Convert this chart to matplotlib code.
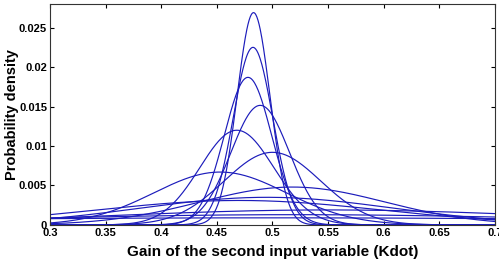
import numpy as np
import matplotlib
matplotlib.use("Agg")
import matplotlib.pyplot as plt

# ~~~~~~~~~~~~~ Paramètres (un pic par courbe) ~~~~~~~~~~~~~ #
centres = [0.483, 0.4825, 0.478, 0.489, 0.468, 0.500, 0.453, 0.518, 0.495, 0.470, 0.550, 0.500, 0.520]
hauteurs = [0.0269, 0.0225, 0.0187, 0.01515, 0.0120, 0.0092, 0.0067, 0.0048, 0.0035, 0.0031, 0.0019, 0.0009, 0.0013]
largeurs = [0.0148, 0.0177, 0.0213, 0.0263, 0.0332, 0.0433, 0.0596, 0.083, 0.114, 0.129, 0.20, 0.40, 0.25]

x_ticks = [0.3, 0.35, 0.4, 0.45, 0.5, 0.55, 0.6, 0.65, 0.7]
y_ticks = [0, 0.005, 0.01, 0.015, 0.02, 0.025]

plt.rcParams['font.family'] = ['Liberation Sans', 'DejaVu Sans']

fig = plt.figure(figsize=(4.99, 2.64), dpi=100)
ax = fig.add_axes([0.1, 0.148, 0.892, 0.837])

x = np.linspace(0.3, 0.7, 801)
for mu, h, s in zip(centres, hauteurs, largeurs):
    ax.plot(x, h * np.exp(-0.5 * ((x - mu) / s) ** 2), color='#1c1cbb', lw=0.85)

ax.set_xlim(0.3, 0.7)
ax.set_ylim(0, 0.028)
ax.set_xticks(x_ticks)
ax.set_xticklabels([f"{t:g}" for t in x_ticks], fontweight='bold', fontsize=8)
ax.set_yticks(y_ticks)
ax.set_yticklabels([f"{t:g}" for t in y_ticks], fontweight='bold', fontsize=8)
ax.tick_params(direction='in', top=True, right=True, length=3, pad=2)
for sp in ax.spines.values():
    sp.set_linewidth(0.8)
    sp.set_color('#333333')

ax.set_xlabel("Gain of the second input variable (Kdot)", fontweight='bold', fontsize=11, labelpad=5)
ax.set_ylabel("Probability density", fontweight='bold', fontsize=10.5, labelpad=0)

fig.savefig("out.png", dpi=100)
